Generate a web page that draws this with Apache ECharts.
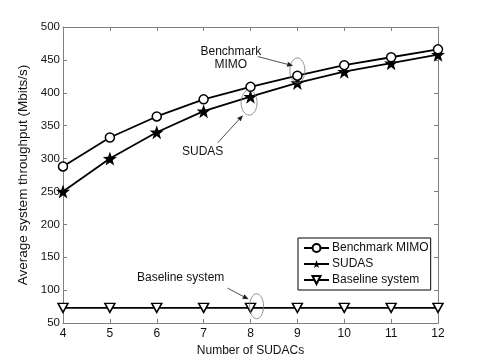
<!DOCTYPE html>
<html>
<head>
<meta charset="utf-8">
<title>Average system throughput</title>
<script type="text/javascript" src="https://cdn.jsdelivr.net/npm/echarts@6/dist/echarts.min.js"></script>
<style>
html, body { margin: 0; padding: 0; background: #fff; }
#chart { width: 485px; height: 363px; }
</style>
</head>
<body>
<div id="chart"></div>
<script type="text/javascript">
    var sudacs = [4, 5, 6, 7, 8, 9, 10, 11, 12];
    var benchmarkMimo = [288, 332, 364, 390, 409, 426, 442, 454, 466];
    var sudas = [250, 300, 340, 372, 394, 415, 432, 445, 458];
    var baseline = [73, 73, 73, 73, 73, 73, 73, 73, 73];

    // annotations, in data coordinates
    var ellipses = [
        {at: [9.0, 434], rx: 7.5, ry: 12.5},
        {at: [7.97, 385], rx: 8, ry: 12.5},
        {at: [8.13, 75.5], rx: 7, ry: 12.5}
    ];
    var notes = [
        {text: 'Benchmark\nMIMO', at: [7.58, 453]},
        {text: 'SUDAS', at: [6.98, 310]},
        {text: 'Baseline system', at: [6.51, 119]}
    ];
    var arrows = [
        {from: [8.16, 455], to: [8.91, 441]},
        {from: [7.30, 324], to: [7.84, 366]},
        {from: [7.51, 103], to: [7.96, 86]}
    ];

    var star = 'path://M0,-10 L2.35,-3.24 L9.51,-3.09 L3.8,1.24 L5.88,8.09 L0,4 L-5.88,8.09 L-3.8,1.24 L-9.51,-3.09 L-2.35,-3.24 Z';
    var font = 'Liberation Sans';
    var axisGrey = '#7f7f7f';

    function pairs(ys) {
        return sudacs.map(function (x, i) { return [x, ys[i]]; });
    }

    function frameAxis(pos, type) {
        return {
            type: 'value', position: pos, min: type.min, max: type.max, interval: type.interval,
            axisLine: {show: true, onZero: false, lineStyle: {color: axisGrey, width: 1}},
            axisTick: {show: true, inside: true, length: 4, lineStyle: {color: axisGrey}},
            axisLabel: {show: false}, splitLine: {show: false}
        };
    }

    var lineStyle = {color: '#000', width: 1.8};

    var option = {
        backgroundColor: '#fff',
        animation: false,
        textStyle: {fontFamily: font},
        grid: {left: 63, right: 47, top: 27, bottom: 40, outerBoundsMode: 'none'},
        legend: {
            orient: 'vertical',
            left: 298, top: 238,
            padding: [4, 2, 4, 5],
            itemGap: 4,
            itemWidth: 25, itemHeight: 10,
            backgroundColor: '#fff',
            borderColor: '#000', borderWidth: 1, borderRadius: 0,
            textStyle: {fontFamily: font, fontSize: 12, color: '#111', padding: [0, 0, 0, -2]},
            data: ['Benchmark MIMO', 'SUDAS', 'Baseline system']
        },
        xAxis: [{
            type: 'value', min: 4, max: 12, interval: 1,
            name: 'Number of SUDACs', nameLocation: 'middle', nameGap: 19,
            nameTextStyle: {fontFamily: font, fontSize: 12, color: '#111'},
            axisLine: {show: true, onZero: false, lineStyle: {color: axisGrey, width: 1}},
            axisTick: {show: true, inside: true, length: 4, lineStyle: {color: axisGrey}},
            axisLabel: {fontFamily: font, fontSize: 12, color: '#111', margin: 5},
            splitLine: {show: false}
        }, frameAxis('top', {min: 4, max: 12, interval: 1})],
        yAxis: [{
            type: 'value', min: 50, max: 500, interval: 50,
            name: 'Average system throughput (Mbits/s)', nameLocation: 'middle', nameGap: 27,
            nameTextStyle: {fontFamily: font, fontSize: 13.5, color: '#111'},
            axisLine: {show: true, onZero: false, lineStyle: {color: axisGrey, width: 1}},
            axisTick: {show: true, inside: true, length: 4, lineStyle: {color: axisGrey}},
            axisLabel: {fontFamily: font, fontSize: 11.5, color: '#111', margin: 3},
            splitLine: {show: false}
        }, frameAxis('right', {min: 50, max: 500, interval: 50})],
        series: [{
            name: 'Benchmark MIMO', type: 'line', data: pairs(benchmarkMimo),
            symbol: 'circle', symbolSize: 9,
            itemStyle: {color: '#fff', borderColor: '#000', borderWidth: 1.5},
            lineStyle: lineStyle, z: 3
        }, {
            name: 'SUDAS', type: 'line', data: pairs(sudas),
            symbol: star, symbolSize: 14,
            itemStyle: {color: '#000', borderColor: '#000', borderWidth: 0},
            lineStyle: lineStyle, z: 2
        }, {
            name: 'Baseline system', type: 'line', data: pairs(baseline),
            symbol: 'triangle', symbolRotate: 180, symbolSize: [10, 9],
            itemStyle: {color: '#fff', borderColor: '#000', borderWidth: 1.5},
            lineStyle: lineStyle, z: 2
        }]
    };

    var chart = echarts.init(document.getElementById('chart'));
    chart.setOption(option);

    function px(p) {
        return chart.convertToPixel({gridIndex: 0}, p);
    }

    var graphics = [];
    ellipses.forEach(function (e) {
        var c = px(e.at);
        graphics.push({
            type: 'ellipse', z: 10,
            shape: {cx: c[0], cy: c[1], rx: e.rx, ry: e.ry},
            style: {fill: 'none', stroke: '#777', lineWidth: 0.8}
        });
    });
    notes.forEach(function (n) {
        var c = px(n.at);
        graphics.push({
            type: 'text', z: 10, x: c[0], y: c[1],
            style: {text: n.text, fill: '#111', font: '12px "' + font + '"',
                    align: 'center', verticalAlign: 'middle', lineHeight: 13}
        });
    });
    arrows.forEach(function (a) {
        var p0 = px(a.from), p1 = px(a.to);
        var dx = p1[0] - p0[0], dy = p1[1] - p0[1];
        var len = Math.sqrt(dx * dx + dy * dy);
        var ux = dx / len, uy = dy / len;
        var hl = 6, hw = 2.5;
        var bx = p1[0] - ux * hl, by = p1[1] - uy * hl;
        graphics.push({
            type: 'line', z: 10,
            shape: {x1: p0[0], y1: p0[1], x2: bx, y2: by},
            style: {stroke: '#222', lineWidth: 0.8}
        });
        graphics.push({
            type: 'polygon', z: 10,
            shape: {points: [p1, [bx - uy * hw, by + ux * hw], [bx + uy * hw, by - ux * hw]]},
            style: {fill: '#222'}
        });
    });
    chart.setOption({graphic: graphics});
</script>
</body>
</html>
